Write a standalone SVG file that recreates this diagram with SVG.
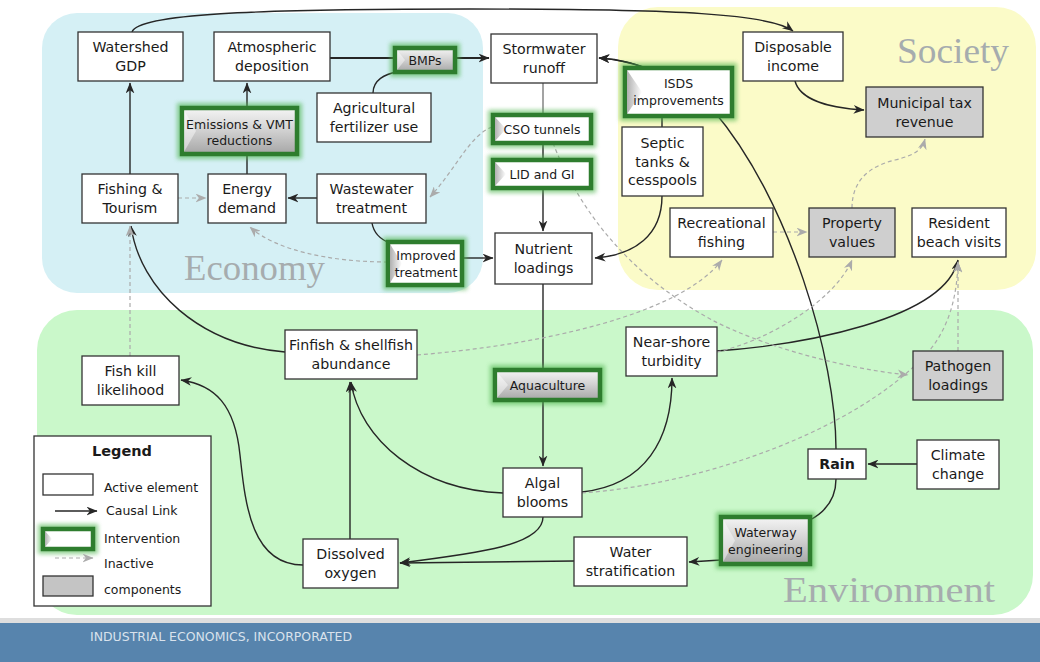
<svg xmlns="http://www.w3.org/2000/svg" width="1040" height="662" viewBox="0 0 1040 662">
<defs>
<style>
.n rect{fill:#fff;stroke:#333;stroke-width:1.3}
.n.g rect{fill:#cfcfcf}
.t{font-family:"DejaVu Sans",Verdana,sans-serif;font-size:14.2px;fill:#1a1a1a;text-anchor:middle}
.s{font-size:12.5px}
.b{font-weight:bold}
.c{fill:none;stroke:#262626;stroke-width:1.4}
.c.k{stroke-width:2.2}
.c.m{stroke:#666;stroke-width:1.2}
.d{fill:none;stroke:#ababab;stroke-width:1.2;stroke-dasharray:4 3}
.glow{fill:none;stroke:#4cb34c;stroke-width:10;opacity:.6;filter:url(#blur)}
.edge{stroke:#2e7d2e;stroke-width:4.5}
.lab{font-family:"Liberation Serif","Times New Roman",serif;font-size:36px;fill:#a6acae}
.lg{font-family:"DejaVu Sans",Verdana,sans-serif;font-size:12.5px;fill:#1a1a1a}
</style>
<filter id="blur" x="-30%" y="-60%" width="160%" height="220%"><feGaussianBlur stdDeviation="2.2"/></filter>
<linearGradient id="gGray" x1="0" y1="0" x2="0" y2="1"><stop offset="0" stop-color="#f5f5f5"/><stop offset="0.45" stop-color="#d4d4d4"/><stop offset="1" stop-color="#a6a6a6"/></linearGradient>
<linearGradient id="gTri" x1="0" y1="0" x2="1" y2="0"><stop offset="0" stop-color="#b0b0b0"/><stop offset="1" stop-color="#ffffff"/></linearGradient>
<marker id="arr" viewBox="0 0 10 8" markerWidth="11" markerHeight="9" refX="9.5" refY="4" orient="auto" markerUnits="userSpaceOnUse"><path d="M0,0 L10,4 L0,8 L3,4 z" fill="#262626"/></marker>
<marker id="arrg" viewBox="0 0 10 8" markerWidth="11" markerHeight="9" refX="9.5" refY="4" orient="auto" markerUnits="userSpaceOnUse"><path d="M0,0 L10,4 L0,8 L3,4 z" fill="#ababab"/></marker>
</defs>

<rect x="0" y="0" width="1040" height="662" fill="#ffffff"/>
<g id="panels">
<rect x="42" y="13" width="441" height="280" rx="35" fill="#d5f0f5"/>
<rect x="618" y="7" width="418" height="283" rx="40" fill="#fbfbc8"/>
<rect x="37" y="310" width="996" height="305" rx="40" fill="#caf8ca"/>
<text class="lab" x="184" y="280" textLength="141" lengthAdjust="spacingAndGlyphs">Economy</text>
<text class="lab" x="897" y="63" textLength="112" lengthAdjust="spacingAndGlyphs">Society</text>
<text class="lab" x="783" y="602" textLength="212" lengthAdjust="spacingAndGlyphs">Environment</text>
</g>
<rect x="0" y="618" width="1040" height="5" fill="#dedede"/>
<rect x="0" y="623" width="1040" height="39" fill="#5784ad"/>
<text x="90" y="641" font-family="DejaVu Sans,Verdana,sans-serif" font-size="12" fill="#d9e2ec" textLength="262" lengthAdjust="spacingAndGlyphs">INDUSTRIAL ECONOMICS, INCORPORATED</text>

<g id="connectors">
<path class="c" d="M132,32 C138,14 250,9 470,9 C680,9 770,14 793,31" marker-end="url(#arr)"/>
<path class="c" d="M130,174 L130,83" marker-end="url(#arr)"/>
<path class="c" d="M247,174 L247,154"/>
<path class="c" d="M247,108 L247,83" marker-end="url(#arr)"/>
<path class="c k" d="M330,58 L395,58"/>
<path class="c k" d="M455,58 L489,58" marker-end="url(#arr)"/>
<path class="c" d="M373,93 C373,80 385,74 397,72"/>
<path class="c" d="M317,198 L288,198" marker-end="url(#arr)"/>
<path class="c" d="M372,223 C374,235 382,240 390,243"/>
<path class="c" d="M462,258 L493,258" marker-end="url(#arr)"/>
<path class="c m" d="M543,83 L543,115"/>
<path class="c" d="M543,143 L543,160"/>
<path class="c" d="M543,188 L543,231" marker-end="url(#arr)"/>
<path class="c" d="M662,127 L662,116"/>
<path class="c" d="M645,68 C630,62 612,59 599,58" marker-end="url(#arr)"/>
<path class="c" d="M836,449 C836,360 790,200 713,110 C690,83 640,60 599,58" marker-end="url(#arr)"/>
<path class="c" d="M662,196 C662,235 635,255 595,258" marker-end="url(#arr)"/>
<path class="c" d="M795,81 C800,100 830,108 864,110" marker-end="url(#arr)"/>
<path class="c" d="M543,284 L543,370"/>
<path class="c" d="M543,400 L543,466" marker-end="url(#arr)"/>
<path class="c" d="M503,493 C420,490 360,440 351,382" marker-end="url(#arr)"/>
<path class="c" d="M582,492 C645,485 672,440 672,378" marker-end="url(#arr)"/>
<path class="c" d="M543,517 C543,545 480,553 400,563" marker-end="url(#arr)"/>
<path class="c" d="M574,561 L400,563" marker-end="url(#arr)"/>
<path class="c" d="M350,539 L350,382" marker-end="url(#arr)"/>
<path class="c" d="M303,565 C250,565 245,500 240,455 C235,405 215,385 181,380" marker-end="url(#arr)"/>
<path class="c" d="M285,352 C200,345 140,290 131,226" marker-end="url(#arr)"/>
<path class="c" d="M717,351 C800,345 945,320 958,260" marker-end="url(#arr)"/>
<path class="c" d="M917,464 L868,464" marker-end="url(#arr)"/>
<path class="c" d="M836,479 C836,500 825,512 810,520"/>
<path class="c" d="M721,560 L689,562" marker-end="url(#arr)"/>

<path class="d" d="M492,127 C470,135 455,170 430,197" marker-end="url(#arrg)"/>
<path class="d" d="M388,262 C330,262 275,250 250,227" marker-end="url(#arrg)"/>
<path class="d" d="M178,198 L206,198" marker-end="url(#arrg)"/>
<path class="d" d="M130,356 L130,226" marker-end="url(#arrg)"/>
<path class="d" d="M417,355 C540,345 680,315 722,260" marker-end="url(#arrg)"/>
<path class="d" d="M553,143 C575,200 620,270 712,320 C760,345 840,368 908,375" marker-end="url(#arrg)"/>
<path class="d" d="M773,232 L807,232" marker-end="url(#arrg)"/>
<path class="d" d="M852,208 C852,180 870,166 895,160 C915,155 922,150 925,139" marker-end="url(#arrg)"/>
<path class="d" d="M717,352 C770,340 835,300 852,260" marker-end="url(#arrg)"/>
<path class="d" d="M582,493 C700,485 860,430 930,350 C950,325 957,295 958,262" marker-end="url(#arrg)"/>
<path class="d" d="M958,351 L958,262" marker-end="url(#arrg)"/>
</g>

<g id="watershed-gdp" class="n"><rect x="78" y="32" width="105" height="49"/><text class="t" x="130.5" y="52">Watershed</text><text class="t" x="130.5" y="71">GDP</text></g>
<g id="atmospheric-deposition" class="n"><rect x="214" y="32" width="116" height="49"/><text class="t" x="272" y="52">Atmospheric</text><text class="t" x="272" y="71">deposition</text></g>
<g id="agricultural-fertilizer-use" class="n"><rect x="317" y="93" width="114" height="49"/><text class="t" x="374" y="113">Agricultural</text><text class="t" x="374" y="132">fertilizer use</text></g>
<g id="fishing-tourism" class="n"><rect x="82" y="174" width="96" height="49"/><text class="t" x="130" y="194">Fishing &amp;</text><text class="t" x="130" y="213">Tourism</text></g>
<g id="energy-demand" class="n"><rect x="208" y="174" width="78" height="49"/><text class="t" x="247" y="194">Energy</text><text class="t" x="247" y="213">demand</text></g>
<g id="wastewater-treatment" class="n"><rect x="317" y="174" width="109" height="49"/><text class="t" x="371.5" y="194">Wastewater</text><text class="t" x="371.5" y="213">treatment</text></g>
<g id="stormwater-runoff" class="n"><rect x="491" y="34" width="106" height="49"/><text class="t" x="544" y="54">Stormwater</text><text class="t" x="544" y="73">runoff</text></g>
<g id="nutrient-loadings" class="n"><rect x="495" y="233" width="97" height="51"/><text class="t" x="543.5" y="254">Nutrient</text><text class="t" x="543.5" y="273">loadings</text></g>
<g id="septic-tanks" class="n"><rect x="622" y="127" width="81" height="69"/><text class="t" x="662.5" y="148">Septic</text><text class="t" x="662.5" y="166.5">tanks &amp;</text><text class="t" x="662.5" y="185">cesspools</text></g>
<g id="disposable-income" class="n"><rect x="743" y="32" width="100" height="49"/><text class="t" x="793" y="52">Disposable</text><text class="t" x="793" y="71">income</text></g>
<g id="municipal-tax-revenue" class="n g"><rect x="866" y="87" width="117" height="50"/><text class="t" x="924.5" y="107.5">Municipal tax</text><text class="t" x="924.5" y="126.5">revenue</text></g>
<g id="recreational-fishing" class="n"><rect x="670" y="208" width="103" height="49"/><text class="t" x="721.5" y="228">Recreational</text><text class="t" x="721.5" y="247">fishing</text></g>
<g id="property-values" class="n g"><rect x="809" y="208" width="86" height="49"/><text class="t" x="852" y="228">Property</text><text class="t" x="852" y="247">values</text></g>
<g id="resident-beach-visits" class="n"><rect x="912" y="208" width="94" height="49"/><text class="t" x="959" y="228">Resident</text><text class="t" x="959" y="247">beach visits</text></g>
<g id="finfish-shellfish-abundance" class="n"><rect x="285" y="330" width="132" height="49"/><text class="t" x="351" y="350">Finfish &amp; shellfish</text><text class="t" x="351" y="369">abundance</text></g>
<g id="fish-kill-likelihood" class="n"><rect x="82" y="356" width="97" height="49"/><text class="t" x="130.5" y="376">Fish kill</text><text class="t" x="130.5" y="395">likelihood</text></g>
<g id="near-shore-turbidity" class="n"><rect x="626" y="327" width="91" height="49"/><text class="t" x="671.5" y="347">Near-shore</text><text class="t" x="671.5" y="366">turbidity</text></g>
<g id="pathogen-loadings" class="n g"><rect x="913" y="351" width="90" height="49"/><text class="t" x="958" y="371">Pathogen</text><text class="t" x="958" y="390">loadings</text></g>
<g id="algal-blooms" class="n"><rect x="503" y="468" width="79" height="49"/><text class="t" x="542.5" y="488">Algal</text><text class="t" x="542.5" y="507">blooms</text></g>
<g id="rain" class="n"><rect x="808" y="449" width="58" height="30"/><text class="t b" x="837" y="469">Rain</text></g>
<g id="climate-change" class="n"><rect x="917" y="440" width="82" height="49"/><text class="t" x="958" y="460">Climate</text><text class="t" x="958" y="479">change</text></g>
<g id="water-stratification" class="n"><rect x="574" y="537" width="113" height="49"/><text class="t" x="630.5" y="557">Water</text><text class="t" x="630.5" y="576">stratification</text></g>
<g id="dissolved-oxygen" class="n"><rect x="303" y="539" width="95" height="49"/><text class="t" x="350.5" y="559">Dissolved</text><text class="t" x="350.5" y="578">oxygen</text></g>

<g id="emissions-vmt-reductions"><rect class="glow" x="182" y="108" width="115" height="46"/><rect class="edge" x="182" y="108" width="115" height="46" fill="url(#gGray)"/><polygon points="184,110 196,131 184,152" fill="#fff" opacity=".45"/><text class="t s" x="239.5" y="128.5">Emissions &amp; VMT</text><text class="t s" x="239.5" y="145">reductions</text></g>
<g id="bmps"><rect class="glow" x="395" y="48" width="60" height="24"/><rect class="edge" x="395" y="48" width="60" height="24" fill="url(#gGray)"/><polygon points="397,50 405,60 397,70" fill="#fff" opacity=".45"/><text class="t s" x="425" y="64.5">BMPs</text></g>
<g id="cso-tunnels"><rect class="glow" x="493" y="115" width="98" height="28"/><rect class="edge" x="493" y="115" width="98" height="28" fill="#fff"/><polygon points="495,117 506,129 495,141" fill="url(#gTri)"/><text class="t s" x="542" y="133.5">CSO tunnels</text></g>
<g id="lid-and-gi"><rect class="glow" x="493" y="160" width="98" height="28"/><rect class="edge" x="493" y="160" width="98" height="28" fill="#fff"/><polygon points="495,162 506,174 495,186" fill="url(#gTri)"/><text class="t s" x="542" y="178.5">LID and GI</text></g>
<g id="isds-improvements"><rect class="glow" x="625" y="68" width="107" height="48"/><rect class="edge" x="625" y="68" width="107" height="48" fill="#fff"/><polygon points="627,70 642,92 627,114" fill="url(#gTri)"/><text class="t s" x="678.5" y="88">ISDS</text><text class="t s" x="678.5" y="105">improvements</text></g>
<g id="improved-treatment"><rect class="glow" x="388" y="242" width="74" height="43"/><rect class="edge" x="388" y="242" width="74" height="43" fill="#fff"/><polygon points="390,244 402,263.5 390,283" fill="url(#gTri)"/><text class="t s" x="426" y="260">Improved</text><text class="t s" x="426" y="277">treatment</text></g>
<g id="aquaculture"><rect class="glow" x="495" y="370" width="105" height="30"/><rect class="edge" x="495" y="370" width="105" height="30" fill="url(#gGray)"/><polygon points="497,372 508,385 497,398" fill="#fff" opacity=".45"/><text class="t s" x="547.5" y="389.5">Aquaculture</text></g>
<g id="waterway-engineering"><rect class="glow" x="721" y="517" width="89" height="47"/><rect class="edge" x="721" y="517" width="89" height="47" fill="url(#gGray)"/><polygon points="723,519 735,540.5 723,562" fill="#fff" opacity=".45"/><text class="t s" x="765.5" y="536.5">Waterway</text><text class="t s" x="765.5" y="553.5">engineering</text></g>

<g id="legend">
<rect x="34" y="436" width="177" height="170" fill="#fff" stroke="#333" stroke-width="1.3"/>
<text class="lg" x="122" y="456" font-weight="bold" text-anchor="middle" style="font-size:14.5px">Legend</text>
<rect x="43" y="474" width="50" height="21" fill="#fff" stroke="#333" stroke-width="1.3"/>
<text class="lg" x="104" y="492">Active element</text>
<path class="c" d="M55,511 L97,511" marker-end="url(#arr)"/>
<text class="lg" x="106" y="515">Causal Link</text>
<rect class="glow" x="43" y="529" width="50" height="20"/>
<rect class="edge" x="43" y="529" width="50" height="20" fill="#fff"/>
<polygon points="45,531 52,539 45,547" fill="url(#gTri)"/>
<text class="lg" x="104" y="543">Intervention</text>
<path class="d" d="M55,558 L93,558" marker-end="url(#arrg)"/>
<text class="lg" x="104" y="568">Inactive</text>
<rect x="43" y="576" width="50" height="20" fill="#c4c4c4" stroke="#333" stroke-width="1.3"/>
<text class="lg" x="104" y="594">components</text>
</g>
</svg>
